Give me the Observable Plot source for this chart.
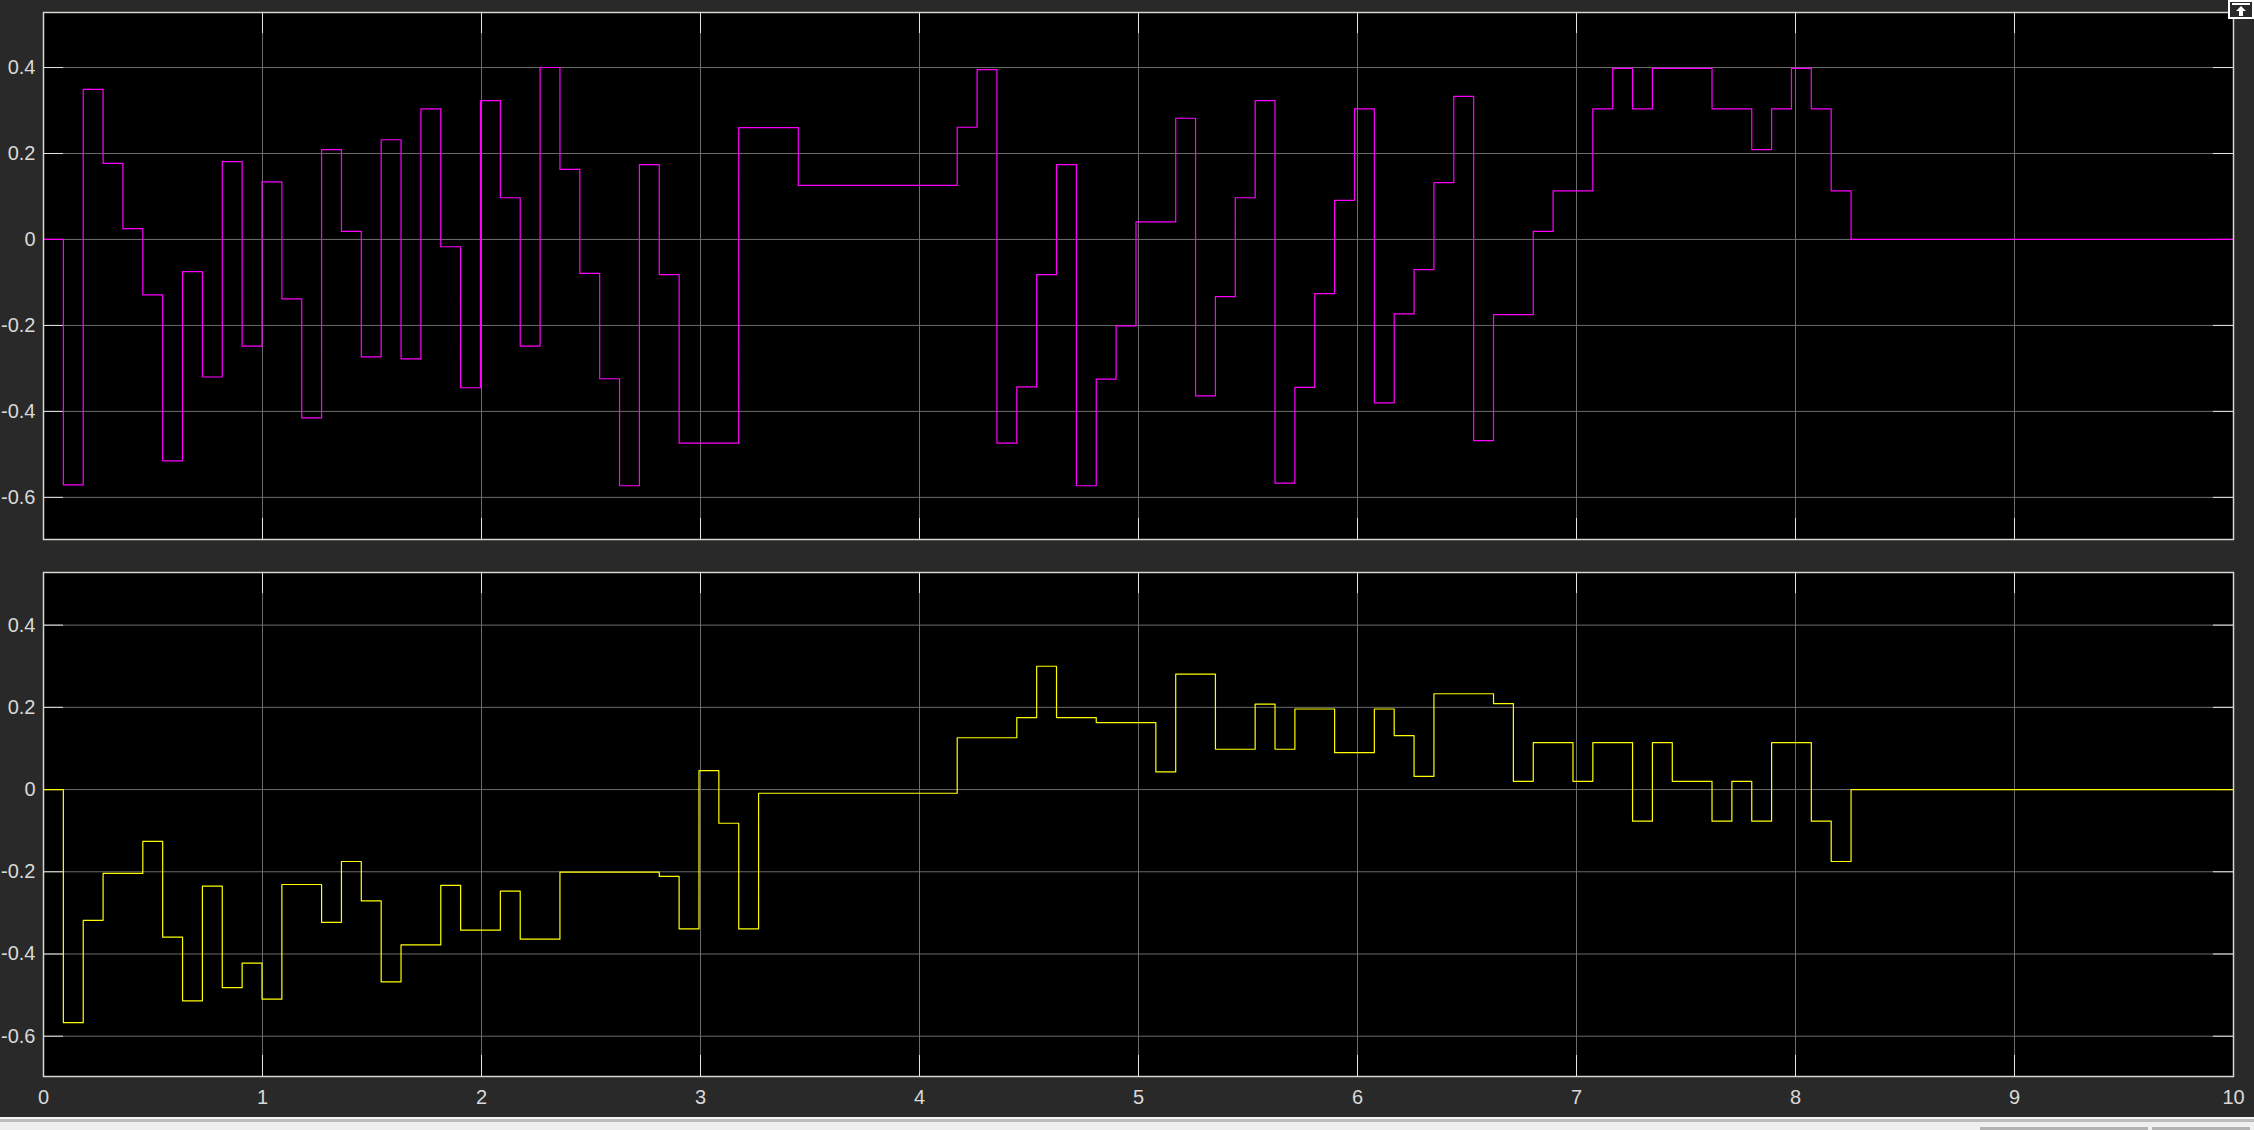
<!DOCTYPE html>
<html>
<head>
<meta charset="utf-8">
<script src="https://cdn.jsdelivr.net/npm/d3@7"></script>
<script src="https://cdn.jsdelivr.net/npm/@observablehq/plot@0.6"></script>
<style>
  html, body { margin: 0; padding: 0; background: #292929; }
  #root { position: relative; width: 2254px; height: 1130px; overflow: hidden; background: #292929; }
  #top, #bottom { position: absolute; left: 0; }
  #top { top: 0; }
  #bottom { top: 560px; }
  #icon { position: absolute; left: 2228px; top: 0; width: 22px; height: 15px; border: 2px solid #fff; background: #292929; }
  #strip1 { position: absolute; left: 0; top: 1117px; width: 2254px; height: 2px; background: #f2f2f2; }
  #strip2 { position: absolute; left: 0; top: 1119px; width: 2254px; height: 3px; background: #bdbdbd; }
  #strip3 { position: absolute; left: 0; top: 1122px; width: 2254px; height: 8px; background: #f0f0f0; }
  #sb1 { position: absolute; left: 1980px; top: 1127px; width: 168px; height: 3px; background: #b3b3b3; }
  #sb2 { position: absolute; left: 2152px; top: 1127px; width: 98px; height: 3px; background: #b3b3b3; }
</style>
</head>
<body>
<div id="root">
  <div id="top"></div>
  <div id="bottom"></div>
  <div id="icon"><svg width="22" height="15" viewBox="0 0 22 15"><rect x="2" y="1" width="18" height="2" fill="#fff"/><path d="M11 4 L6 9 L9 9 L9 14 L13 14 L13 9 L16 9 Z" fill="#fff"/></svg></div>
  <div id="strip1"></div><div id="strip2"></div><div id="strip3"></div>
  <div id="sb1"></div><div id="sb2"></div>
</div>
<script>
// ---- data read from the scope (one value per sample, sample period below) ----
const sampleTime = 0.0907;
const xDomain = [0, 10];
const yDomain = [-0.698, 0.528];
const xTicks = [0, 1, 2, 3, 4, 5, 6, 7, 8, 9, 10];
const yTicks = [-0.6, -0.4, -0.2, 0, 0.2, 0.4];

const topValues = [
  0, -0.571, 0.349, 0.177, 0.025, -0.129, -0.515, -0.075, -0.320, 0.181,
  -0.248, 0.134, -0.138, -0.415, 0.209, 0.019, -0.273, 0.232, -0.278, 0.304,
  -0.017, -0.345, 0.323, 0.097, -0.248, 0.400, 0.163, -0.079, -0.324, -0.573,
  0.174, -0.082, -0.474, -0.474, -0.474, 0.260, 0.260, 0.260, 0.126, 0.126,
  0.126, 0.126, 0.126, 0.126, 0.126, 0.126, 0.261, 0.395, -0.474, -0.343,
  -0.082, 0.174, -0.573, -0.325, -0.201, 0.041, 0.041, 0.282, -0.364, -0.133,
  0.097, 0.323, -0.567, -0.344, -0.126, 0.091, 0.304, -0.380, -0.173, -0.070,
  0.132, 0.333, -0.468, -0.175, -0.175, 0.019, 0.113, 0.113, 0.304, 0.398,
  0.304, 0.398, 0.398, 0.398, 0.304, 0.304, 0.209, 0.304, 0.398, 0.304,
  0.113, 0
];

const bottomValues = [
  0, -0.567, -0.318, -0.204, -0.204, -0.126, -0.359, -0.514, -0.235, -0.482,
  -0.422, -0.510, -0.231, -0.231, -0.323, -0.175, -0.271, -0.468, -0.378, -0.378,
  -0.233, -0.342, -0.342, -0.247, -0.364, -0.364, -0.201, -0.201, -0.201, -0.201,
  -0.201, -0.211, -0.339, 0.046, -0.082, -0.339, -0.009, -0.009, -0.009, -0.009,
  -0.009, -0.009, -0.009, -0.009, -0.009, -0.009, 0.126, 0.126, 0.126, 0.175,
  0.300, 0.175, 0.175, 0.163, 0.163, 0.163, 0.043, 0.281, 0.281, 0.098,
  0.098, 0.208, 0.098, 0.196, 0.196, 0.090, 0.090, 0.196, 0.131, 0.032,
  0.233, 0.233, 0.233, 0.209, 0.020, 0.114, 0.114, 0.020, 0.114, 0.114,
  -0.077, 0.114, 0.020, 0.020, -0.077, 0.020, -0.077, 0.114, 0.114, -0.077,
  -0.175, 0
];

const topColor = "#ff00ff";
const bottomColor = "#ffff00";

// ---- build step series ----
function toSeries(values) {
  const rows = values.map((v, i) => ({t: i * sampleTime, v}));
  rows.push({t: xDomain[1], v: values[values.length - 1]});
  return rows;
}

const W = 2254;
const mL = 43, mR = 21;
const gridColor = "#6c6c6c";
const tickColor = "#e6e6e6";
const frameColor = "#d6d6ce";
const fmt = d => String(+d.toFixed(1));

function scope(values, color, {height, marginTop, marginBottom, showX}) {
  const innerH = height - marginTop - marginBottom;
  const innerW = W - mL - mR;
  return Plot.plot({
    width: W,
    height,
    marginLeft: mL,
    marginRight: mR,
    marginTop,
    marginBottom,
    style: {background: "transparent", color: "#d9d9d9", fontSize: "20px", fontFamily: "'Liberation Sans', Arial, sans-serif"},
    x: {domain: xDomain, ticks: xTicks, axis: null},
    y: {domain: yDomain, ticks: yTicks, axis: null},
    marks: [
      Plot.frame({fill: "#000", stroke: "none"}),
      Plot.ruleX(xTicks, {stroke: gridColor, strokeWidth: 1}),
      Plot.ruleY(yTicks, {stroke: gridColor, strokeWidth: 1}),
      // inward tick marks on all four sides
      Plot.ruleX(xTicks, {stroke: tickColor, insetBottom: innerH - 21}),
      Plot.ruleX(xTicks, {stroke: tickColor, insetTop: innerH - 21}),
      Plot.ruleY(yTicks, {stroke: tickColor, insetRight: innerW - 20}),
      Plot.ruleY(yTicks, {stroke: tickColor, insetLeft: innerW - 20}),
      Plot.line(toSeries(values), {x: "t", y: "v", curve: "step-after", stroke: color, strokeWidth: 1.2}),
      Plot.axisY(yTicks, {anchor: "left", tickSize: 0, tickPadding: 8, tickFormat: fmt, label: null, fill: "#d9d9d9"}),
      showX ? Plot.axisX(xTicks, {anchor: "bottom", tickSize: 0, tickPadding: 13, tickFormat: d => String(d), label: null, fill: "#d9d9d9"}) : null,
      Plot.frame({stroke: frameColor, strokeWidth: 1.5})
    ]
  });
}

document.getElementById("top").append(
  scope(topValues, topColor, {height: 560, marginTop: 12, marginBottom: 21, showX: false})
);
document.getElementById("bottom").append(
  scope(bottomValues, bottomColor, {height: 570, marginTop: 12, marginBottom: 54, showX: true})
);
</script>
</body>
</html>
